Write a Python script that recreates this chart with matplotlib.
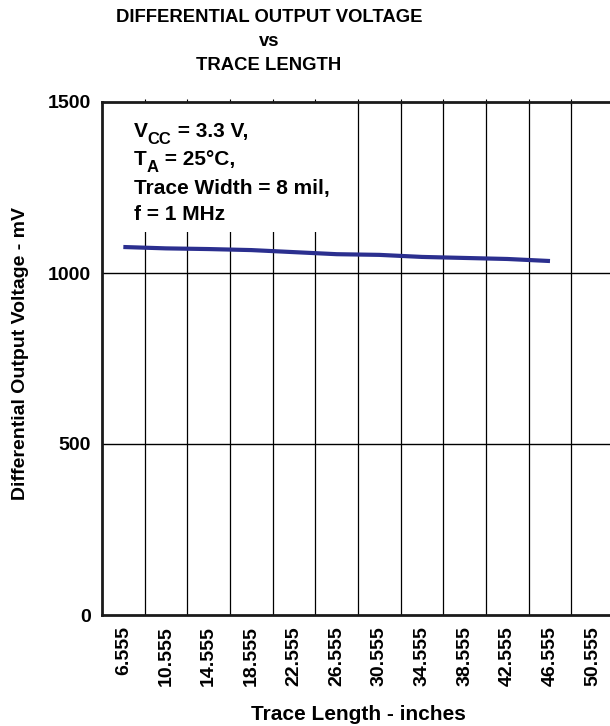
import matplotlib
matplotlib.use('Agg')
import matplotlib.pyplot as plt
from matplotlib.patches import Rectangle

plt.rcParams['font.family'] = ['Liberation Sans', 'DejaVu Sans']
plt.rcParams['font.weight'] = 'bold'

# data
trace_length = ['6.555', '10.555', '14.555', '18.555', '22.555', '26.555',
                '30.555', '34.555', '38.555', '42.555', '46.555', '50.555']
voltage_mv = [1076, 1072, 1070, 1067, 1061, 1055, 1053, 1047, 1044, 1041, 1035]
y_ticks = [0, 500, 1000, 1500]

fig = plt.figure(figsize=(6.1, 7.26), dpi=100)
ax = fig.add_axes([102 / 610, 1 - 615 / 726, 512 / 610, 513 / 726])

pos = list(range(len(trace_length)))
ax.plot(pos[:len(voltage_mv)], voltage_mv, color='#2b2f8f', lw=3.0, zorder=3,
        solid_capstyle='butt')

ax.set_xlim(-0.5, len(trace_length) - 0.5)
ax.set_ylim(0, 1500)
ax.set_xticks(pos)
ax.set_xticklabels(trace_length, rotation=90, fontsize=14, fontweight='bold')
ax.set_xticks([p + 0.5 for p in pos[:-1]], minor=True)
ax.set_yticks(y_ticks)
ax.set_yticklabels([str(v) for v in y_ticks], fontsize=14, fontweight='bold')
ax.tick_params(axis='x', which='major', length=0, pad=8)
ax.tick_params(axis='y', length=0, pad=8)
ax.tick_params(axis='x', which='minor', top=True, bottom=False,
               direction='inout', length=5, width=0.8)

ax.set_axisbelow(True)
ax.grid(True, axis='x', which='minor', color='black', lw=0.9)
for v in y_ticks[1:-1]:
    ax.axhline(v, color='black', lw=1.0, zorder=0.5)

for side in ['top', 'left', 'bottom', 'right']:
    ax.spines[side].set_linewidth(2.0)
    ax.spines[side].set_color('#1a1a1a')

# white box behind the conditions
ax.add_patch(Rectangle((0, 0.747), 0.465, 0.253, transform=ax.transAxes,
                       facecolor='white', edgecolor='none', zorder=1))

# conditions, subscripts built by hand so they stay large
fs = 15
note_x = 0.0625
note_y = [0.932, 0.877, 0.821, 0.770]
subs = [('V', 'CC', ' = 3.3 V,'), ('T', 'A', ' = 25°C,')]
for (main, sub, rest), yy in zip(subs, note_y[:2]):
    t0 = ax.text(note_x, yy, main, transform=ax.transAxes, fontsize=fs,
                 fontweight='bold', va='baseline', ha='left', zorder=4)
    t1 = ax.annotate(sub, xy=(1, 0), xycoords=t0, xytext=(0, -4.5),
                     textcoords='offset points', fontsize=12, fontweight='bold',
                     va='bottom', ha='left', zorder=4)
    ax.annotate(rest, xy=(1, 0), xycoords=(t1, t0), fontsize=fs,
                fontweight='bold', va='bottom', ha='left', zorder=4)
for txt, yy in zip(['Trace Width = 8 mil,', 'f = 1 MHz'], note_y[2:]):
    ax.text(note_x, yy, txt, transform=ax.transAxes, fontsize=fs,
            fontweight='bold', va='baseline', ha='left', zorder=4)

ax.set_xlabel('Trace Length - inches', fontsize=15, fontweight='bold', labelpad=14)
ax.set_ylabel('Differential Output Voltage - mV', fontsize=14, fontweight='bold')
ax.yaxis.set_label_coords(-0.143, 0.51)

title_x = 269 / 610
fig.text(title_x, 1 - 18 / 726, 'DIFFERENTIAL OUTPUT VOLTAGE', ha='center',
         va='center', fontsize=13.3, fontweight='bold')
fig.text(title_x, 1 - 41 / 726, 'vs', ha='center', va='center', fontsize=13.3,
         fontweight='bold')
fig.text(title_x, 1 - 66 / 726, 'TRACE LENGTH', ha='center', va='center',
         fontsize=13.3, fontweight='bold')

fig.savefig('out.png', dpi=100)
